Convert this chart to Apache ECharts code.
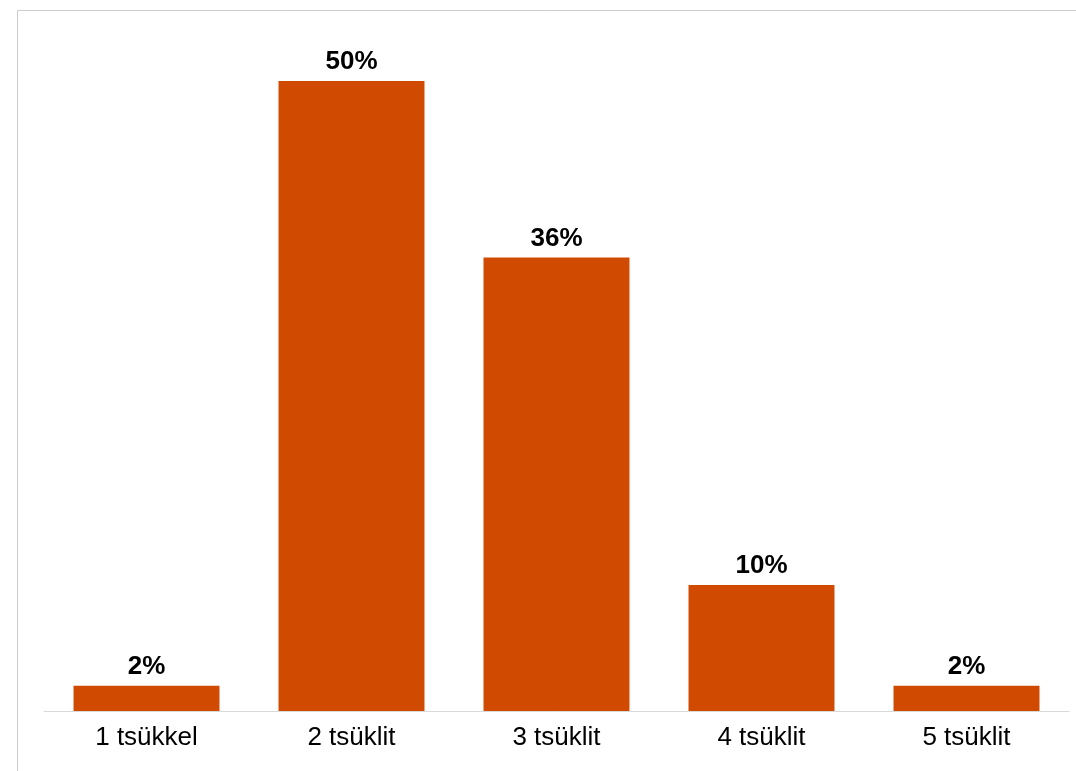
<!DOCTYPE html>
<html>
<head>
<meta charset="utf-8">
<script src="https://cdn.jsdelivr.net/npm/echarts@6/dist/echarts.min.js"></script>
<style>
html,body{margin:0;padding:0;background:#fff;}
#c{width:1076px;height:771px;}
</style>
</head>
<body>
<div id="c"></div>
<script>
const categories = ['1 tsükkel', '2 tsüklit', '3 tsüklit', '4 tsüklit', '5 tsüklit'];
const values = [2, 50, 36, 10, 2];

const chart = echarts.init(document.getElementById('c'), null, {renderer: 'canvas'});
chart.setOption({
  animation: false,
  backgroundColor: '#ffffff',
  graphic: [{
    type: 'rect',
    shape: {x: 17.5, y: 10.5, width: 1100, height: 800},
    style: {fill: 'none', stroke: '#cccccc', lineWidth: 1},
    silent: true
  }],
  grid: {left: 44, right: 7, top: 18, bottom: 60, containLabel: false},
  xAxis: {
    type: 'category',
    data: categories,
    axisLine: {show: true, lineStyle: {color: '#d9d9d9', width: 1}},
    axisTick: {show: false},
    axisLabel: {color: '#000000', fontSize: 26, fontFamily: 'Liberation Sans, Arial, sans-serif', margin: 14}
  },
  yAxis: {
    type: 'value',
    min: 0,
    max: 55,
    show: false,
    splitLine: {show: false}
  },
  series: [{
    type: 'bar',
    data: values,
    barWidth: '71.2%',
    itemStyle: {color: '#D04A02'},
    label: {
      show: true,
      position: 'top',
      distance: 6,
      formatter: p => p.value + '%',
      color: '#000000',
      fontSize: 26,
      fontWeight: 'bold',
      fontFamily: 'Liberation Sans, Arial, sans-serif'
    }
  }]
});
</script>
</body>
</html>
